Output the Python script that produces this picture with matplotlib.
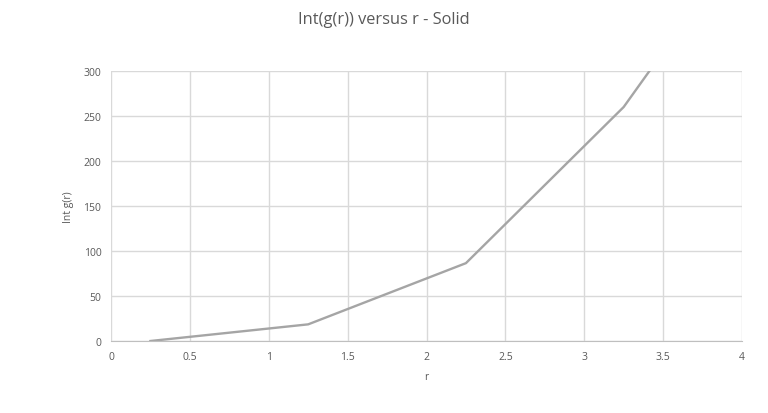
import matplotlib
matplotlib.use('agg')
import matplotlib.pyplot as plt

# Int g(r) vs r for the solid
r = [0.25, 1.25, 2.25, 3.25, 4.25]
int_g = [0, 18.5, 86.5, 260, 505]

plt.rcParams['font.family'] = ['Open Sans', 'DejaVu Sans']

fig = plt.figure(figsize=(7.68, 4.14), dpi=100)
ax = fig.add_axes([111/768, (414-342)/414, (742-111)/768, (342-72)/414])

ax.plot(r, int_g, color='#a5a5a5', linewidth=1.7, solid_joinstyle='round')

ax.set_xlim(0, 4)
ax.set_ylim(0, 300)
ax.set_xticks([0, 0.5, 1, 1.5, 2, 2.5, 3, 3.5, 4])
ax.set_xticklabels(['0', '0.5', '1', '1.5', '2', '2.5', '3', '3.5', '4'])
ax.set_yticks(range(0, 301, 50))

ax.grid(True, color='#d9d9d9', linewidth=1)
ax.set_axisbelow(True)
for side in ['top', 'right', 'left']:
    ax.spines[side].set_visible(False)
ax.spines['bottom'].set_color('#bfbfbf')
ax.tick_params(length=0, labelsize=7.5, labelcolor='#595959', pad=7)

ax.set_xlabel('r', fontsize=7.5, color='#595959', labelpad=7)
ax.set_ylabel('Int g(r)', fontsize=7.5, color='#595959', labelpad=7)
fig.text(0.5, 1 - 20/414, 'Int(g(r)) versus r - Solid', ha='center', va='center',
         fontsize=11.8, color='#595959')

plt.savefig('out.png', dpi=100)
